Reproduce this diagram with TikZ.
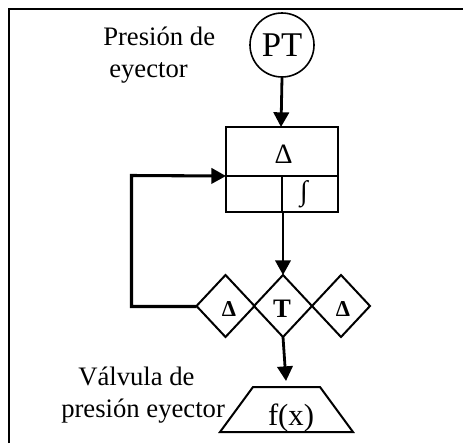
\documentclass[tikz,border=0pt]{standalone}
\usepackage{fontspec}
\setmainfont{Liberation Serif}
\usetikzlibrary{arrows.meta}
\tikzset{x=0.75pt,y=-0.75pt,
 conn/.style={line width=2.1pt,-{Triangle[length=11pt,width=11.5pt]}},
 plain/.style={line width=1.5pt},
 lbl/.style={font=\fontsize{20pt}{23.5pt}\selectfont,align=left,inner sep=0pt,anchor=base west},
 sym/.style={font=\fontsize{21pt}{24pt}\selectfont,inner sep=0pt},
 symb/.style={font=\bfseries\fontsize{17pt}{20pt}\selectfont,inner sep=0pt}}
\begin{document}
\begin{tikzpicture}
\useasboundingbox (0,0) rectangle (463,443);
\fill[white] (0,0) rectangle (463,443);
\draw[line width=1.6pt] (9,443) -- (9,9) -- (463,9);
\node[draw,circle,line width=1.2pt,minimum size=48pt,inner sep=0pt,font=\fontsize{26pt}{28pt}\selectfont] (pt) at (282,45) {PT};
\node[lbl] (t1) at (103,77) {Presión de\\\hspace{4.5pt}eyector};
\node[draw,line width=1.5pt,minimum width=84pt,minimum height=64pt,inner sep=0pt] (box) at (282,169.5) {};
\coordinate (ml) at (226,176);
\coordinate (mr) at (338,176);
\coordinate (mt) at (282,176);
\draw[plain] (ml) -- (mr);
\draw[plain] (mt) -- (box.south);
\node[sym] (d0) at (283.5,154) {Δ};
\node[sym] (int) at (304,194) {∫};
\foreach \xx in {225.5,283,341}{
 \draw[plain] (\xx-29,306) -- (\xx,275) -- (\xx+29,306) -- (\xx,337) -- cycle;
}
\node[symb] (da) at (229,309) {Δ};
\node[symb,font=\bfseries\fontsize{20pt}{22pt}\selectfont] (dt) at (282,309) {T};
\node[symb] (db) at (343,309) {Δ};
\coordinate (dtn) at (283,275);
\coordinate (dts) at (283,337);
\coordinate (dal) at (196.5,306.5);
\coordinate (boxs) at (283,212);
\coordinate (boxn) at (281,127);
\coordinate (e) at (286,381);
\draw[conn] (pt.south) -- (boxn);
\draw[conn] (boxs) -- (dtn);
\draw[conn,line width=2.3pt] (dal) -- (131.5,306.5) -- (131.5,175.5) -- (ml);
\draw[conn] (dts) -- (e);
\draw[plain] (220,432) -- (253,387) -- (320,387) -- (353,432) -- cycle;
\node[font=\fontsize{23pt}{26pt}\selectfont,inner sep=0pt,anchor=base] (f) at (291,425) {f(x)};
\node[lbl] (t2) at (61,417) {\hspace{12.75pt}Válvula de\\presión eyector};
\end{tikzpicture}
\end{document}
